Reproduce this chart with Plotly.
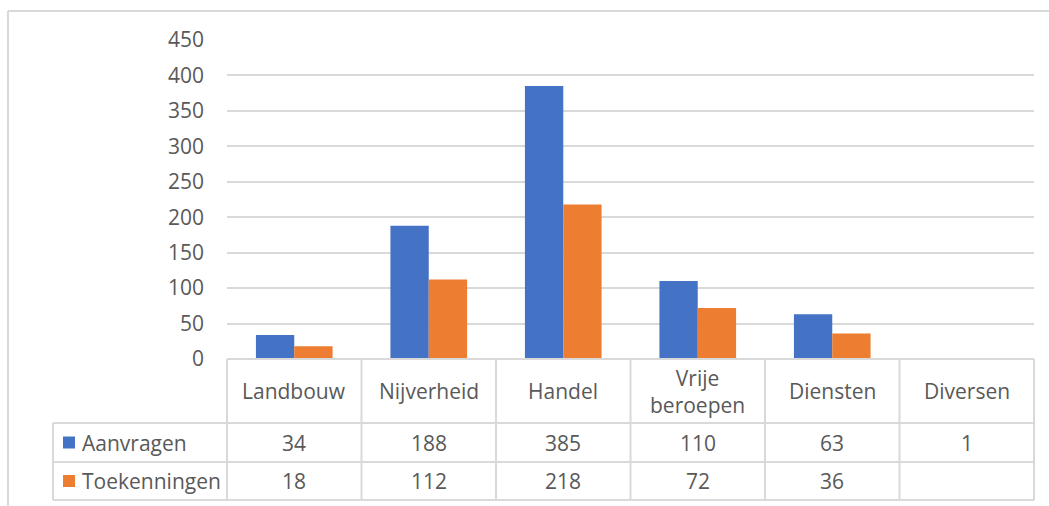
import plotly.graph_objects as go

# Data
categories = ["Landbouw", "Nijverheid", "Handel", "Vrije<br>beroepen", "Diensten", "Diversen"]
series_names = ["Aanvragen", "Toekenningen"]
aanvragen = [34, 188, 385, 110, 63, 1]
toekenningen = [18, 112, 218, 72, 36, None]
y_ticks = [0, 50, 100, 150, 200, 250, 300, 350, 400, 450]

W, H = 1049, 506
BLUE = "#4472C4"
ORANGE = "#ED7D31"
TEXT = "#595959"
LINE = "#D9D9D9"
FONT = "Open Sans"


def X(p):
    return p / W


def Y(p):
    return 1 - p / H


# plot area / table geometry (pixels)
plot_left, plot_right = 227, 1034
plot_top, plot_bottom = 40, 359
legend_left = 53
row_lines = [423, 462, 500]
ncat = len(categories)
col_w = (plot_right - plot_left) / ncat

fig = go.Figure()
for name, vals, color in [(series_names[0], aanvragen, BLUE), (series_names[1], toekenningen, ORANGE)]:
    fig.add_trace(go.Bar(
        x=list(range(ncat)), y=vals, name=name,
        marker=dict(color=color, line=dict(width=0)),
        showlegend=False, hoverinfo="y",
    ))

shapes = []
# outer chart border (top and left)
shapes.append(dict(type="line", xref="paper", yref="paper", x0=X(8), x1=X(1049), y0=Y(11), y1=Y(11),
                   line=dict(color=LINE, width=2)))
shapes.append(dict(type="line", xref="paper", yref="paper", x0=X(8), x1=X(8), y0=Y(11), y1=Y(506),
                   line=dict(color=LINE, width=2)))
# table horizontal lines
shapes.append(dict(type="line", xref="paper", yref="paper", x0=X(plot_left), x1=X(plot_right),
                   y0=Y(plot_bottom), y1=Y(plot_bottom), line=dict(color=LINE, width=2)))
for ry in row_lines:
    shapes.append(dict(type="line", xref="paper", yref="paper", x0=X(legend_left), x1=X(plot_right),
                       y0=Y(ry), y1=Y(ry), line=dict(color=LINE, width=2)))
# table vertical lines
shapes.append(dict(type="line", xref="paper", yref="paper", x0=X(legend_left), x1=X(legend_left),
                   y0=Y(row_lines[0]), y1=Y(row_lines[-1]), line=dict(color=LINE, width=2)))
for i in range(ncat + 1):
    cx = plot_left + i * col_w
    shapes.append(dict(type="line", xref="paper", yref="paper", x0=X(cx), x1=X(cx),
                       y0=Y(plot_bottom), y1=Y(row_lines[-1]), line=dict(color=LINE, width=2)))

# legend keys in the table
for r, color in enumerate([BLUE, ORANGE]):
    top = row_lines[r]
    bot = row_lines[r + 1]
    mid = (top + bot) / 2
    shapes.append(dict(type="rect", xref="paper", yref="paper", x0=X(63), x1=X(75),
                       y0=Y(mid - 6), y1=Y(mid + 6), fillcolor=color, line=dict(width=0)))

annotations = []
font = dict(family=FONT, size=21, color=TEXT)
# category header
header_mid = (plot_bottom + row_lines[0]) / 2
for i, cat in enumerate(categories):
    cx = plot_left + (i + 0.5) * col_w
    annotations.append(dict(xref="paper", yref="paper", x=X(cx), y=Y(header_mid), text=cat,
                            showarrow=False, font=font, xanchor="center", yanchor="middle"))
# series rows
for r, (name, vals) in enumerate([(series_names[0], aanvragen), (series_names[1], toekenningen)]):
    mid = (row_lines[r] + row_lines[r + 1]) / 2
    annotations.append(dict(xref="paper", yref="paper", x=X(80), y=Y(mid), text=name,
                            showarrow=False, font=font, xanchor="left", yanchor="middle"))
    for i, v in enumerate(vals):
        if v is None:
            continue
        cx = plot_left + (i + 0.5) * col_w
        annotations.append(dict(xref="paper", yref="paper", x=X(cx), y=Y(mid), text=str(v),
                                showarrow=False, font=font, xanchor="center", yanchor="middle"))

fig.update_layout(
    width=W, height=H,
    margin=dict(l=0, r=0, t=0, b=0, pad=0),
    paper_bgcolor="white", plot_bgcolor="white",
    barmode="group", bargap=0.43, bargroupgap=0,
    shapes=shapes, annotations=annotations,
    xaxis=dict(domain=[X(plot_left), X(plot_right)], range=[-0.5, ncat - 0.5], automargin=False,
               showticklabels=False, showgrid=False, zeroline=False, showline=False, ticks=""),
    yaxis=dict(domain=[Y(plot_bottom), Y(plot_top)], range=[0, 450], tickvals=y_ticks, automargin=False,
               showgrid=True, gridcolor=LINE, gridwidth=2, zeroline=False, showline=False,
               ticks="", ticklabelstandoff=22, tickfont=font),
)

fig.write_html("out.html")
